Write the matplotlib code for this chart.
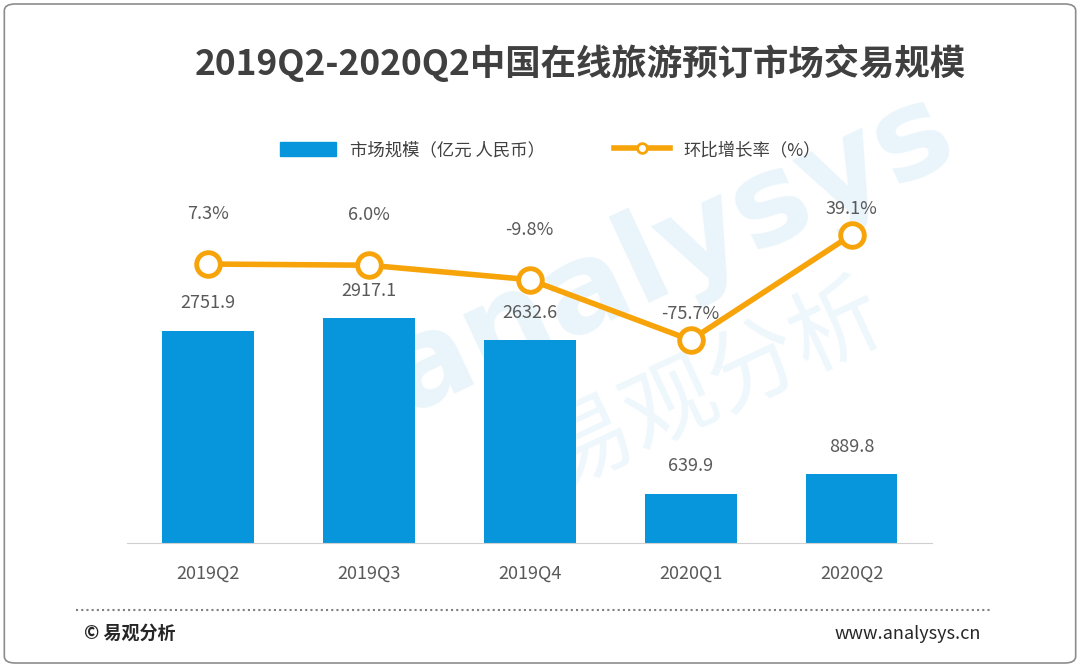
import matplotlib.pyplot as plt
from matplotlib.patches import FancyBboxPatch
from matplotlib.lines import Line2D

plt.rcParams['font.family'] = ['Noto Sans CJK SC', 'DejaVu Sans']

quarters = ['2019Q2', '2019Q3', '2019Q4', '2020Q1', '2020Q2']
market = [2751.9, 2917.1, 2632.6, 639.9, 889.8]
growth = [7.3, 6.0, -9.8, -75.7, 39.1]
growth_labels = ['7.3%', '6.0%', '-9.8%', '-75.7%', '39.1%']

BLUE = '#0796DB'
ORANGE = '#F7A30A'
GRAY = '#595959'

fig = plt.figure(figsize=(10.8, 6.67), dpi=100)

# 外框
fig.patches.append(FancyBboxPatch((0.004, 0.006), 0.992, 0.988, boxstyle='round,pad=0,rounding_size=0.01',
                                  transform=fig.transFigure, fill=False, edgecolor='#8c8c8c', linewidth=1.2))

# 水印（放在坐标轴之后）
fig.text(0.62, 0.62, 'analysys', fontsize=90, color='#eaf5fb', rotation=25, ha='center', va='center',
         fontweight='bold', zorder=-1, family='DejaVu Sans')
fig.text(0.66, 0.42, '易观分析', fontsize=66, color='#eef7fc', rotation=25, ha='center', va='center', zorder=-1)

ax = fig.add_axes([0.118, 0.186, 0.745, 0.619])
ax.set_zorder(1)
ax.patch.set_alpha(0)
x = range(len(quarters))
ax.bar(x, market, width=0.57, color=BLUE, zorder=2)
ax.set_xlim(-0.5, 4.5)
ax.set_ylim(0, 5365)
for i, v in enumerate(market):
    ax.annotate(f'{v:.1f}', (i, v), xytext=(0, 20), textcoords='offset points',
                ha='center', va='center', fontsize=13, color=GRAY)
ax.set_xticks(list(x))
ax.set_xticklabels(quarters, fontsize=13, color=GRAY)
ax.tick_params(axis='x', length=0, pad=16)
ax.set_yticks([])
for s in ['top', 'left', 'right']:
    ax.spines[s].set_visible(False)
ax.spines['bottom'].set_color('#d0d0d0')

ax2 = ax.twinx()
ax2.set_ylim(-297.3, 153.6)
ax2.plot(x, growth, color=ORANGE, linewidth=4, marker='o', markersize=17,
         markerfacecolor='white', markeredgecolor=ORANGE, markeredgewidth=3.5, zorder=3)
offsets = [36, 36, 36, 19, 19]
for i, v in enumerate(growth):
    ax2.annotate(growth_labels[i], (i, v), xytext=(0, offsets[i]), textcoords='offset points',
                 ha='center', va='center', fontsize=13, color=GRAY, zorder=4)
ax2.set_yticks([])
for s in ax2.spines.values():
    s.set_visible(False)

fig.text(0.537, 0.905, '2019Q2-2020Q2中国在线旅游预订市场交易规模', ha='center', va='center',
         fontsize=25.5, fontweight='bold', color='#404040')

handles = [plt.Rectangle((0, 0), 1, 1, color=BLUE),
           Line2D([0], [0], color=ORANGE, linewidth=4, marker='o', markersize=7,
                  markerfacecolor='white', markeredgecolor=ORANGE, markeredgewidth=2)]
fig.legend(handles, ['市场规模（亿元 人民币）', '环比增长率（%）'], loc='center', bbox_to_anchor=(0.51, 0.775),
           ncol=2, frameon=False, fontsize=12.5, handlelength=3.2, handleheight=0.9, columnspacing=4,
           labelcolor='#404040')

fig.add_artist(Line2D([0.07, 0.917], [0.086, 0.086], transform=fig.transFigure, color='#808080',
                      linestyle=(0, (1, 1.5)), linewidth=1.5))
fig.text(0.078, 0.05, '© 易观分析', fontsize=13, color='#262626', va='center', fontweight='bold')
fig.text(0.908, 0.05, 'www.analysys.cn', fontsize=13, color='#262626', va='center', ha='right')

fig.savefig('out.png', dpi=100, facecolor='white')
